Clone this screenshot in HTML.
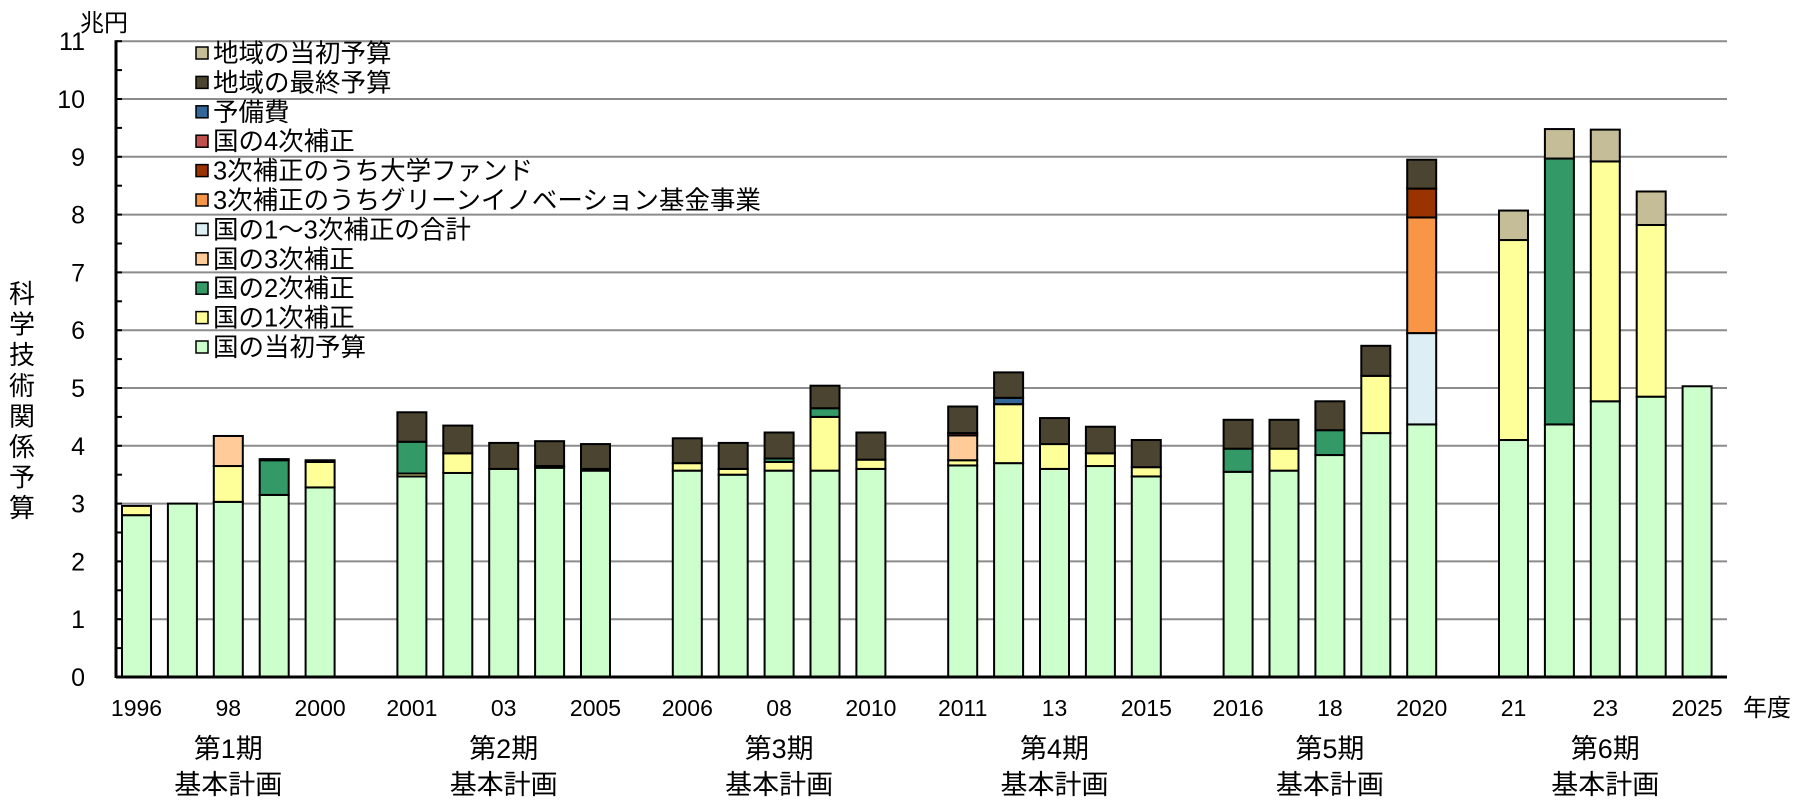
<!DOCTYPE html>
<html><head><meta charset="utf-8">
<style>
html,body{margin:0;padding:0;background:#fff;}
svg{display:block;}
text{font-family:"Liberation Sans","Noto Sans CJK JP",sans-serif;fill:#000;}
</style></head>
<body>
<svg id="c" width="1800" height="806" xmlns="http://www.w3.org/2000/svg"></svg>
<script>
const svg=document.getElementById('c');
const NS='http://www.w3.org/2000/svg';
function el(t,a,txt){const e=document.createElementNS(NS,t);for(const k in a)e.setAttribute(k,a[k]);if(txt!==undefined)e.textContent=txt;svg.appendChild(e);return e;}
const y0=677,u=57.8,axX=116,right=1727;
const Y=v=>y0-v*u;
for(let v=1;v<=11;v++) el('line',{x1:axX,x2:right,y1:Y(v),y2:Y(v),stroke:'#8c8c8c','stroke-width':2});
for(let v=0.5;v<11;v+=1) el('line',{x1:axX,x2:axX+6,y1:Y(v),y2:Y(v),stroke:'#000','stroke-width':2});
for(let v=0;v<=11;v++){el('line',{x1:axX,x2:axX+6,y1:Y(v),y2:Y(v),stroke:'#000','stroke-width':2});
 el('text',{x:85,y:Y(v)+9,'font-size':25,'text-anchor':'end'},String(v));}
const C={i:'#ccffcc',a:'#ffff99',b:'#339966',c:'#ffcc99',s:'#ddeef5',g:'#f79646',u:'#993300',f:'#c0504d',r:'#336699',d:'#4a4430',ri:'#c4bd97'};
const data=[
[0,[['i',2.8],['a',2.96]]],
[1,[['i',3.0]]],
[2,[['i',3.03],['a',3.65],['c',4.17]]],
[3,[['i',3.15],['b',3.75],['d',3.77]]],
[4,[['i',3.28],['a',3.72],['d',3.75]]],
[6,[['i',3.47],['a',3.52],['b',4.07],['d',4.58]]],
[7,[['i',3.53],['a',3.87],['d',4.35]]],
[8,[['i',3.6],['d',4.05]]],
[9,[['i',3.62],['a',3.65],['d',4.08]]],
[10,[['i',3.57],['a',3.6],['d',4.03]]],
[12,[['i',3.57],['a',3.7],['d',4.13]]],
[13,[['i',3.5],['a',3.6],['d',4.05]]],
[14,[['i',3.57],['a',3.72],['b',3.78],['d',4.23]]],
[15,[['i',3.57],['a',4.5],['b',4.65],['d',5.04]]],
[16,[['i',3.6],['a',3.76],['d',4.23]]],
[18,[['i',3.66],['a',3.75],['c',4.18],['f',4.22],['d',4.68]]],
[19,[['i',3.7],['a',4.72],['r',4.83],['d',5.27]]],
[20,[['i',3.6],['a',4.03],['d',4.48]]],
[21,[['i',3.65],['a',3.87],['d',4.33]]],
[22,[['i',3.47],['a',3.63],['d',4.1]]],
[24,[['i',3.55],['b',3.95],['d',4.45]]],
[25,[['i',3.57],['a',3.95],['d',4.45]]],
[26,[['i',3.84],['b',4.27],['d',4.77]]],
[27,[['i',4.22],['a',5.21],['d',5.73]]],
[28,[['i',4.37],['s',5.95],['g',7.95],['u',8.45],['d',8.95]]],
[30,[['i',4.1],['a',7.56],['ri',8.07]]],
[31,[['i',4.37],['b',8.97],['ri',9.48]]],
[32,[['i',4.77],['a',8.92],['ri',9.47]]],
[33,[['i',4.85],['a',7.82],['ri',8.4]]],
[34,[['i',5.03]]]];
const cx=i=>136.5+45.9*i, bw=29;
data.forEach(([i,segs])=>{let prev=0;segs.forEach(([k,v])=>{el('rect',{x:cx(i)-bw/2,y:Y(v),width:bw,height:Y(prev)-Y(v),fill:C[k],stroke:'#000','stroke-width':2});prev=v;});});
el('line',{x1:axX,x2:axX,y1:Y(11)-1,y2:y0+1,stroke:'#000','stroke-width':3});
el('line',{x1:axX,x2:right,y1:y0,y2:y0,stroke:'#000','stroke-width':3});
[[0,'1996'],[2,'98'],[4,'2000'],[6,'2001'],[8,'03'],[10,'2005'],[12,'2006'],[14,'08'],[16,'2010'],[18,'2011'],[20,'13'],[22,'2015'],[24,'2016'],[26,'18'],[28,'2020'],[30,'21'],[32,'23'],[34,'2025']].forEach(([i,t])=>el('text',{x:cx(i),y:716,'font-size':23,'text-anchor':'middle'},t));
el('text',{x:1767,y:716,'font-size':24,'text-anchor':'middle'},'年度');
[2,8,14,20,26,32].forEach((i,k)=>{el('text',{x:cx(i),y:758,'font-size':27,'text-anchor':'middle'},'第'+(k+1)+'期');el('text',{x:cx(i),y:794,'font-size':27,'text-anchor':'middle'},'基本計画');});
el('text',{x:80,y:31,'font-size':24},'兆円');
'科学技術関係予算'.split('').forEach((ch,k)=>el('text',{x:22,y:303+k*30.6,'font-size':26,'text-anchor':'middle'},ch));
const L=[['ri','地域の当初予算'],['d','地域の最終予算'],['r','予備費'],['f','国の4次補正'],['u','3次補正のうち大学ファンド'],['g','3次補正のうちグリーンイノベーション基金事業'],['s','国の1～3次補正の合計'],['c','国の3次補正'],['b','国の2次補正'],['a','国の1次補正'],['i','国の当初予算']];
L.forEach(([k,t],j)=>{const yy=53+j*29.4;el('rect',{x:196,y:yy-6,width:12,height:12,fill:C[k],stroke:'#000','stroke-width':1.5});el('text',{x:213,y:yy+9,'font-size':25.5},t);});
</script>
</body></html>
